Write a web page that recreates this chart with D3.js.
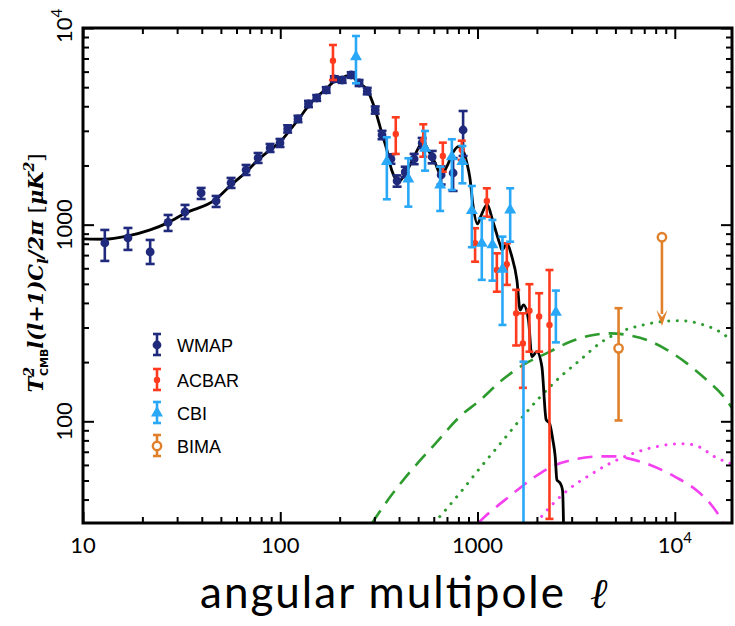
<!DOCTYPE html>
<html><head><meta charset="utf-8">
<script src="https://cdn.jsdelivr.net/npm/d3@7"></script>
<style>body{margin:0;background:#fff}</style>
</head><body>
<svg id="c" width="735" height="626"></svg>
<script>
// ---------- DATA ----------
const wmapL  = [12.9,16.9,21.9,27.0,32.9,39.7,47.3,56.3,67.1,77.2,88.8,99.7,109,123,139,153,171,188,206,229,251,276,303,328,364,391,430,477,524,589,654,752,845];
const wmapD  = [807,856,727,1026,1160,1450,1319,1629,1897,2183,2454,2603,3066,3447,4108,4407,4839,5504,5440,5769,5253,4782,3830,2858,2158,1668,1853,2158,2603,2209,1789,1831,3029];
const wmapHi = [940,962,836,1120,1260,1537,1399,1728,2012,2314,2572,2727,3200,3580,4260,4560,5000,5680,5620,5960,5440,4960,3990,3000,2280,1780,1970,2290,2760,2370,1980,2180,3784];
const wmapLo = [654,744,631,929,1069,1351,1230,1537,1789,2060,2342,2483,2940,3320,3960,4260,4680,5330,5260,5580,5070,4600,3670,2720,2040,1560,1740,2030,2450,2050,1600,1484,2235];

const acbarL  = [185,385,531,667,832,972,1115,1253,1408,1570,1698,1833,2053,2316];
const acbarD  = [6821,2892,2696,2235,2398,804,1319,588,629,354,249,365,341,309];
const acbarHi = [8196,3516,3239,2612,2673,959,1531,715,804,466,354,498,448,588];
const acbarLo = [5440,2288,2216,1860,2133,648,1098,456,494,243,148,226,226,31.9];

const cbiL  = [242,347,446,542,647,741,838,936,1051,1190,1338,1464,1710,2496];
const cbiD  = [7146,2091,1708,2446,1591,2216,2091,1178,804,789,593,1188,15,358];
const cbiHi = [9106,2782,2176,2995,1972,2718,2513,1573,1078,1057,869,1531,201,462];
const cbiLo = [5235,1346,1235,1882,1174,1501,1623,768,524,519,309,819,1,252];

const bimaL  = [5188];
const bimaD  = [235];
const bimaHi = [376];
const bimaLo = [101];
const bimaLimitL = [8607];
const bimaLimitD = [863];
const bimaLimitTip = [305];

const cmbL = [10,12.9,16.9,21.9,27.0,32.9,46.7,56.3,67.1,77.2,88.8,99.7,112,123,139,153,171,188,206,218,232,251,276,303,327,347,367,382,397,421,464,512,529,564,610,652,699,755,800,842,883,915,948,999,1041,1116,1204,1302,1330,1408,1493,1583,1645,1710,1812,1886,1999,2119,2228,2316,2409,2476,2525,2623,2696,2728,2745];
const cmbD = [846,843,876,940,1024,1143,1335,1591,1853,2133,2398,2633,3029,3406,4013,4459,4896,5378,5569,5702,5636,5253,4839,3830,2926,2398,1897,1728,1654,1754,2091,2542,2642,2378,2060,1789,1972,2350,2492,2398,2060,1728,1260,1008,1107,1260,1016,789,744,798,688,524,368,391,328,213,226,190,102,97.8,80.4,66.2,50.4,48.5,44.8,30.4,20];

const greenDashL = [292,361,455,610,816,1031,1302,1710,2246,2949,3871,4704,5718,7220,9120,11520,14550,17660,19500];
const greenDashD = [30.4,41.3,55.3,76.8,106,128,159,194,222,254,275,280,275,259,231,197,162,134,117];

const greenDotL = [603,816,1031,1302,1645,2077,2623,3314,4184,5288,6915,8734,10650,13450,17600,19500];
const greenDotD = [30.4,43.3,58.0,76.8,102,133,168,205,250,285,309,322,325,313,278,256];

const pinkDashL = [1007,1159,1464,1915,2418,3200,4184,4988,5941,7504,10040,12980,15480,17600];
const pinkDashD = [30.4,34.6,41.8,51.5,59.3,64.4,66.3,66.3,64.4,60.0,52.2,44.3,37.1,30.8];

const pinkDotL = [1982,2426,2949,3724,4704,6175,8116,10250,11250,13450,15850,19500];
const pinkDotD = [30.4,38.3,45.7,53.4,61.2,68.8,74.4,76.8,76.8,73.7,66.2,60.7];

const xMajor = [10,100,1000,10000];
const xMinor = [20,30,40,50,60,70,80,90,200,300,400,500,600,700,800,900,2000,3000,4000,5000,6000,7000,8000,9000];
const yMajor = [100,1000,10000];
const yMinor = [40,50,60,70,80,90,200,300,400,500,600,700,800,900,2000,3000,4000,5000,6000,7000,8000,9000];
const xTickLabels = ["10","100","1000"];
const yTickLabels = ["100","1000"];
const legendNames = ["WMAP","ACBAR","CBI","BIMA"];

// ---------- STYLE ----------
const C = {wmap:"#1f2a7c", acbar:"#ff3b1f", cbi:"#2aa8f8", bima:"#e0802a", green:"#2e9b2e", pink:"#f540f0"};

const svg = d3.select("#c");
const M = {l:83, r:732, t:28, b:523};
const x = d3.scaleLog().domain([10,19500]).range([M.l,M.r]);
const y = d3.scaleLog().domain([30.4,10000]).range([M.b,M.t]);

svg.append("defs").append("clipPath").attr("id","clip")
  .append("rect").attr("x",M.l).attr("y",M.t).attr("width",M.r-M.l).attr("height",M.b-M.t);

const plot = svg.append("g").attr("clip-path","url(#clip)");

const line = d3.line().x(d=>x(d[0])).y(d=>y(d[1])).curve(d3.curveMonotoneX);
function drawCurve(L,D,color,w,dash,cap){
  plot.append("path").attr("d",line(L.map((l,i)=>[l,D[i]])))
    .attr("fill","none").attr("stroke",color).attr("stroke-width",w)
    .attr("stroke-dasharray",dash||null).attr("stroke-linecap",cap||"butt");
}
drawCurve(greenDashL,greenDashD,C.green,2.6,"15,9");
drawCurve(greenDotL,greenDotD,C.green,3,"0.1,8.5","round");
drawCurve(pinkDashL,pinkDashD,C.pink,2.6,"15,9");
drawCurve(pinkDotL,pinkDotD,C.pink,3,"0.1,8.5","round");
drawCurve(cmbL,cmbD,"#000",2.8);

function errbars(L,lo,hi,color,capW,w){
  const g = plot.append("g").attr("stroke",color).attr("stroke-width",w);
  L.forEach((l,i)=>{
    const xx = x(l);
    g.append("line").attr("x1",xx).attr("x2",xx).attr("y1",y(lo[i])).attr("y2",y(hi[i]));
    [lo[i],hi[i]].forEach(v=>g.append("line").attr("x1",xx-capW/2).attr("x2",xx+capW/2).attr("y1",y(v)).attr("y2",y(v)));
  });
}
// WMAP
errbars(wmapL,wmapLo,wmapHi,C.wmap,9,2.6);
plot.append("g").selectAll("circle").data(wmapL).join("circle")
  .attr("cx",d=>x(d)).attr("cy",(d,i)=>y(wmapD[i])).attr("r",4.4).attr("fill",C.wmap);
// ACBAR
errbars(acbarL,acbarLo,acbarHi,C.acbar,8,2.6);
plot.append("g").selectAll("circle").data(acbarL).join("circle")
  .attr("cx",d=>x(d)).attr("cy",(d,i)=>y(acbarD[i])).attr("r",3.2).attr("fill",C.acbar);
// CBI
errbars(cbiL,cbiLo,cbiHi,C.cbi,8,2.6);
const tri = d3.symbol(d3.symbolTriangle,62);
plot.append("g").selectAll("path").data(cbiL).join("path")
  .attr("d",tri).attr("transform",(d,i)=>`translate(${x(d)},${y(cbiD[i])})`).attr("fill",C.cbi);
// BIMA
errbars(bimaL,bimaLo,bimaHi,C.bima,8,2.6);
plot.append("g").selectAll("circle").data(bimaL).join("circle")
  .attr("cx",d=>x(d)).attr("cy",(d,i)=>y(bimaD[i])).attr("r",4.2)
  .attr("fill","#fff").attr("stroke",C.bima).attr("stroke-width",2.4);
bimaLimitL.forEach((l,i)=>{
  const xx=x(l), y0=y(bimaLimitD[i]), y1=y(bimaLimitTip[i]);
  plot.append("line").attr("x1",xx).attr("x2",xx).attr("y1",y0+4).attr("y2",y1-12)
    .attr("stroke",C.bima).attr("stroke-width",2.6);
  plot.append("path").attr("d",`M${xx-5.5},${y1-16}L${xx},${y1-9}L${xx+5.5},${y1-16}L${xx},${y1}Z`).attr("fill",C.bima);
  plot.append("circle").attr("cx",xx).attr("cy",y0).attr("r",4.2)
    .attr("fill","#fff").attr("stroke",C.bima).attr("stroke-width",2.4);
});

// ---------- AXES ----------
function tickSet(gen,scale,tr,vals,size){
  svg.append("g").attr("transform",tr)
    .call(gen(scale).tickValues(vals).tickSize(size).tickFormat(""))
    .call(g=>g.select(".domain").remove())
    .call(g=>g.selectAll("line").attr("stroke","#000").attr("stroke-width",2));
}
tickSet(d3.axisBottom,x,`translate(0,${M.b})`,xMajor,-11);
tickSet(d3.axisBottom,x,`translate(0,${M.b})`,xMinor,-6);
tickSet(d3.axisTop,x,`translate(0,${M.t})`,xMajor,-11);
tickSet(d3.axisTop,x,`translate(0,${M.t})`,xMinor,-6);
tickSet(d3.axisLeft,y,`translate(${M.l},0)`,yMajor,-11);
tickSet(d3.axisLeft,y,`translate(${M.l},0)`,yMinor,-6);
tickSet(d3.axisRight,y,`translate(${M.r},0)`,yMajor,-11);
tickSet(d3.axisRight,y,`translate(${M.r},0)`,yMinor,-6);

svg.append("rect").attr("x",M.l).attr("y",M.t).attr("width",M.r-M.l).attr("height",M.b-M.t)
  .attr("fill","none").attr("stroke","#000").attr("stroke-width",3);

const tickFont = "Lato, 'Open Sans', sans-serif";
xTickLabels.forEach((t,i)=>{
  svg.append("text").attr("x",x(xMajor[i])).attr("y",553).attr("text-anchor","middle")
    .attr("font-family",tickFont).attr("font-size",22).text(t);
});
{
  const t = svg.append("text").attr("x",x(10000)).attr("y",553).attr("text-anchor","middle")
    .attr("font-family",tickFont).attr("font-size",22);
  t.append("tspan").text("10");
  t.append("tspan").attr("dy",-10).attr("font-size",15).text("4");
}
yTickLabels.forEach((t,i)=>{
  svg.append("text").attr("transform",`translate(72,${y(yMajor[i])}) rotate(-90)`).attr("text-anchor","middle")
    .attr("font-family",tickFont).attr("font-size",22).text(t);
});
{
  const t = svg.append("text").attr("transform",`translate(72,${y(10000)-2}) rotate(-90)`).attr("text-anchor","middle")
    .attr("font-family",tickFont).attr("font-size",22);
  t.append("tspan").text("10");
  t.append("tspan").attr("dy",-10).attr("font-size",15).text("4");
}

// x title
svg.append("text").attr("x",200).attr("y",608).attr("text-anchor","start")
  .attr("font-family",tickFont).attr("font-size",44)
  .attr("textLength",364).attr("lengthAdjust","spacing").text("angular multipole");
svg.append("text").attr("x",590).attr("y",608).attr("text-anchor","start")
  .attr("font-family","'DejaVu Serif', serif").attr("font-style","italic").attr("font-size",42).text("ℓ");

// y title
{
  const t = svg.append("text").attr("transform","translate(43,273) rotate(-90)").attr("text-anchor","middle")
    .attr("font-family","'DejaVu Serif', serif").attr("font-style","italic").attr("font-weight","bold").attr("font-size",21);
  t.append("tspan").text("T");
  t.append("tspan").attr("dy",-9).attr("font-size",14).text("2");
  t.append("tspan").attr("dy",14).attr("dx",-9).attr("font-size",11).attr("font-style","normal")
    .attr("font-family","'DejaVu Sans', sans-serif").text("CMB");
  t.append("tspan").attr("dy",-5).text("l(l+1)C");
  t.append("tspan").attr("dy",5).attr("font-size",15).text("l");
  t.append("tspan").attr("dy",-5).text("/2π ");
  t.append("tspan").attr("font-style","normal").attr("font-weight","normal").text("[");
  t.append("tspan").text("μK");
  t.append("tspan").attr("dy",-9).attr("font-size",14).text("2");
  t.append("tspan").attr("dy",9).attr("font-style","normal").attr("font-weight","normal").text("]");
}

// ---------- LEGEND ----------
const lg = svg.append("g");
const rows = [345,380,413,446];
const cols = [C.wmap,C.acbar,C.cbi,C.bima];
rows.forEach((ry,i)=>{
  const cx = 157, col = cols[i];
  const g = lg.append("g").attr("stroke",col).attr("stroke-width",2.6);
  g.append("line").attr("x1",cx).attr("x2",cx).attr("y1",ry-11).attr("y2",ry+10);
  g.append("line").attr("x1",cx-4).attr("x2",cx+4).attr("y1",ry-11).attr("y2",ry-11);
  g.append("line").attr("x1",cx-4).attr("x2",cx+4).attr("y1",ry+10).attr("y2",ry+10);
  if(i===0) lg.append("circle").attr("cx",cx).attr("cy",ry).attr("r",4.4).attr("fill",col);
  if(i===1) lg.append("circle").attr("cx",cx).attr("cy",ry).attr("r",3.2).attr("fill",col);
  if(i===2) lg.append("path").attr("d",tri).attr("transform",`translate(${cx},${ry})`).attr("fill",col);
  if(i===3) lg.append("circle").attr("cx",cx).attr("cy",ry).attr("r",4.2).attr("fill","#fff").attr("stroke",col).attr("stroke-width",2.4);
  lg.append("text").attr("x",177).attr("y",ry+6.5).attr("font-family","'Liberation Sans', Arial, sans-serif")
    .attr("font-size",18).text(legendNames[i]);
});
</script>
</body></html>
